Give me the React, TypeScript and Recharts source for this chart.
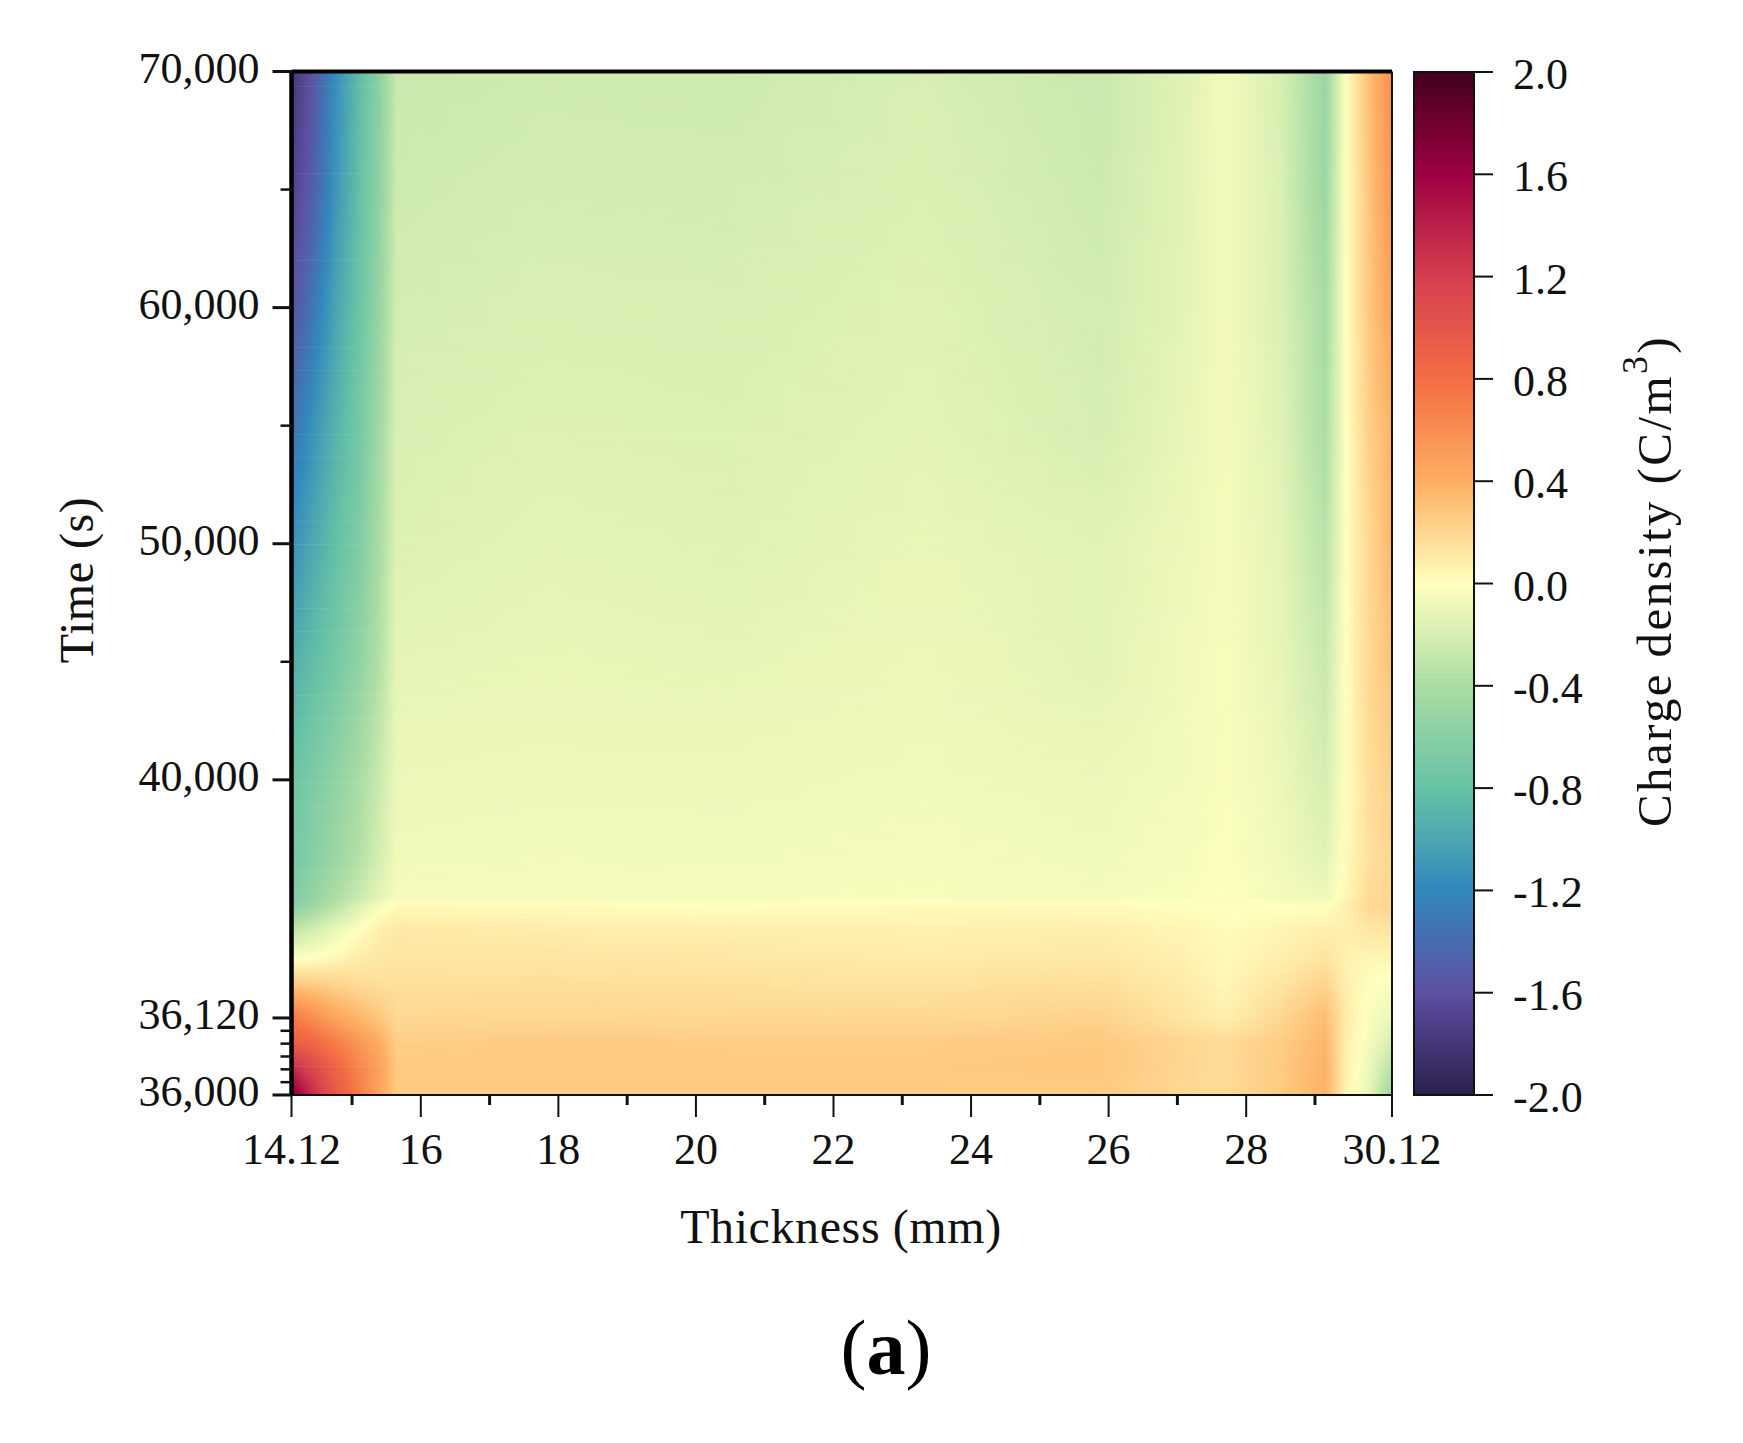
import React from 'react';
import { ComposedChart, XAxis, YAxis, ReferenceArea, ReferenceLine } from 'recharts';

// ---- data ----
const thickness = [14.12, 14.4, 14.75, 15.1, 15.4, 15.65, 17.85, 20.5, 23.3, 25.85, 27.1, 27.7, 28.5, 29.15, 29.45, 29.8, 30.12];
const times = [70000, 65000, 60000, 55000, 50000, 45000, 40000, 38700, 38090, 37950, 37550, 37070, 36660, 36120, 36080, 36040, 36000];

const t70000 = [-1.8, -1.6, -1.17, -0.85, -0.58, -0.26, -0.235, -0.24, -0.195, -0.26, -0.15, -0.06, -0.19, -0.5, 0.0, 0.33, 0.6];
const t65000 = [-1.72, -1.52, -1.12, -0.82, -0.56, -0.235, -0.21, -0.215, -0.175, -0.24, -0.14, -0.06, -0.18, -0.48, 0.0, 0.3, 0.55];
const t60000 = [-1.6, -1.35, -1.02, -0.77, -0.52, -0.21, -0.185, -0.19, -0.155, -0.215, -0.13, -0.06, -0.17, -0.42, 0.0, 0.28, 0.47];
const t55000 = [-1.36, -1.15, -0.92, -0.72, -0.46, -0.185, -0.16, -0.17, -0.135, -0.2, -0.11, -0.055, -0.15, -0.4, 0.0, 0.25, 0.38];
const t50000 = [-1.15, -1.0, -0.82, -0.66, -0.41, -0.165, -0.135, -0.15, -0.11, -0.145, -0.09, -0.05, -0.13, -0.33, 0.0, 0.2, 0.36];
const t45000 = [-0.95, -0.84, -0.72, -0.56, -0.36, -0.125, -0.11, -0.12, -0.09, -0.135, -0.07, -0.04, -0.115, -0.26, 0.0, 0.2, 0.3];
const t40000 = [-0.77, -0.68, -0.56, -0.42, -0.25, -0.09, -0.085, -0.085, -0.07, -0.09, -0.06, -0.03, -0.09, -0.2, 0.0, 0.17, 0.23];
const t38700 = [-0.72, -0.62, -0.5, -0.36, -0.2, -0.07, -0.06, -0.065, -0.05, -0.07, -0.045, -0.02, -0.07, -0.14, 0.02, 0.16, 0.2];
const t38090 = [-0.65, -0.55, -0.4, -0.25, -0.12, -0.05, -0.05, -0.05, -0.035, -0.055, -0.03, -0.01, -0.055, -0.08, 0.04, 0.18, 0.2];
const t37950 = [-0.62, -0.5, -0.33, -0.17, -0.04, 0.03, 0.02, 0.0, 0.02, 0.02, 0.0, 0.0, -0.01, -0.01, 0.07, 0.19, 0.2];
const t37550 = [-0.3, -0.22, -0.1, 0.0, 0.08, 0.11, 0.09, 0.08, 0.07, 0.08, 0.05, 0.02, 0.05, 0.08, 0.08, 0.12, 0.13];
const t37070 = [0.0, 0.01, 0.05, 0.1, 0.12, 0.13, 0.13, 0.12, 0.1, 0.12, 0.07, 0.03, 0.08, 0.14, 0.07, 0.04, 0.05];
const t36660 = [0.28, 0.26, 0.22, 0.18, 0.16, 0.15, 0.16, 0.15, 0.14, 0.16, 0.1, 0.04, 0.13, 0.22, 0.08, 0.0, -0.03];
const t36120 = [0.72, 0.62, 0.46, 0.36, 0.28, 0.19, 0.2, 0.19, 0.19, 0.22, 0.13, 0.08, 0.2, 0.32, 0.1, -0.03, -0.1];
const t36080 = [0.95, 0.88, 0.72, 0.55, 0.42, 0.24, 0.26, 0.25, 0.25, 0.27, 0.2, 0.18, 0.25, 0.36, 0.08, -0.06, -0.2];
const t36040 = [1.35, 1.15, 0.9, 0.65, 0.48, 0.27, 0.27, 0.27, 0.27, 0.28, 0.2, 0.17, 0.26, 0.38, 0.08, -0.1, -0.35];
const t36000 = [1.72, 1.35, 0.98, 0.72, 0.45, 0.25, 0.25, 0.25, 0.25, 0.25, 0.19, 0.18, 0.25, 0.38, 0.05, -0.12, -0.5];
const charge = [t70000, t65000, t60000, t55000, t50000, t45000, t40000, t38700, t38090, t37950, t37550, t37070, t36660, t36120, t36080, t36040, t36000];

const colorLevels = [-2, -1.6, -1.2, -0.8, -0.4, 0, 0.4, 0.8, 1.2, 1.6, 2];
const colorHex = ['#2b1f4d', '#5e4fa2', '#3288bd', '#66c2a5', '#abdda4', '#ffffbf', '#fdae61', '#f46d43', '#d53e4f', '#9e0142', '#42001f'];

const xTicks = [14.12, 15, 16, 17, 18, 19, 20, 21, 22, 23, 24, 25, 26, 27, 28, 29, 30.12];
const xMinor = [15, 17, 19, 21, 23, 25, 27, 29];
const yTickTimes = [36000, 36020, 36040, 36060, 36080, 36100, 36120, 40000, 45000, 50000, 55000, 60000, 65000, 70000];
const yLabelled = [36000, 36120, 40000, 50000, 60000, 70000];
const barTicks = [-2, -1.6, -1.2, -0.8, -0.4, 0, 0.4, 0.8, 1.2, 1.6, 2];

// ---- helpers ----
const FONT = '"Liberation Serif", serif';
const INK = '#111';
const POS_MAX = 1023;
const STRIPS = 400;
const SUB = 4;

// The printed time axis is piecewise: expanded start, then a linear stretch.
const axisPos = (t: number) => {
  if (t <= 36120) return ((t - 36000) / 120) * 77;
  if (t <= 40000) return 77 + ((t - 36120) / 3880) * 238;
  return 315 + ((t - 40000) / 30000) * 708;
};
const timeByPos = new Map(yTickTimes.map((t) => [axisPos(t), t]));
const hexRgb = (h: string) => [1, 3, 5].map((i) => parseInt(h.slice(i, i + 2), 16));
const colorOf = (v: number) => {
  const c = Math.max(-2, Math.min(2, v));
  let i = 0;
  while (i < colorLevels.length - 2 && c > colorLevels[i + 1]) i++;
  const f = (c - colorLevels[i]) / (colorLevels[i + 1] - colorLevels[i]);
  const a = hexRgb(colorHex[i]);
  const b = hexRgb(colorHex[i + 1]);
  return `rgb(${a.map((x, k) => Math.round(x + (b[k] - x) * f)).join(',')})`;
};

const rowPos = times.map(axisPos);
const rowAt = (p: number) => {
  let i = 0;
  while (i < rowPos.length - 2 && p < rowPos[i + 1]) i++;
  const f = (rowPos[i] - p) / (rowPos[i] - rowPos[i + 1]);
  return thickness.map((_, c) => charge[i][c] + (charge[i + 1][c] - charge[i][c]) * f);
};

const xMin = thickness[0];
const xMax = thickness[thickness.length - 1];
const strips = Array.from({ length: STRIPS }, (_, i) => {
  const p0 = (i * POS_MAX) / STRIPS;
  const p1 = ((i + 1) * POS_MAX) / STRIPS;
  const row = rowAt((p0 + p1) / 2);
  const stops: { o: number; c: string }[] = [];
  for (let c = 0; c < thickness.length - 1; c++) {
    for (let s = 0; s < SUB; s++) {
      const f = s / SUB;
      const x = thickness[c] + (thickness[c + 1] - thickness[c]) * f;
      stops.push({ o: (x - xMin) / (xMax - xMin), c: colorOf(row[c] + (row[c + 1] - row[c]) * f) });
    }
  }
  stops.push({ o: 1, c: colorOf(row[row.length - 1]) });
  return { id: `strip-${i}`, p0, p1: Math.min(POS_MAX, p1 + 0.7), stops };
});

const XTick = (props: any) => {
  const { x, y, payload } = props;
  const v = payload.value;
  const minor = xMinor.includes(v);
  return (
    <g>
      <line x1={x} x2={x} y1={y} y2={y + (minor ? 10 : 22)} stroke={INK} strokeWidth={minor ? 3 : 2} />
      {!minor && (
        <text x={x} y={y + 69} textAnchor="middle" fontFamily={FONT} fontSize={44} fill={INK}>
          {String(v)}
        </text>
      )}
    </g>
  );
};

const YTick = (props: any) => {
  const { x, y, payload } = props;
  const t = timeByPos.get(payload.value) ?? 0;
  const major = yLabelled.includes(t);
  return (
    <g>
      <line x1={x - (major ? 19 : 11)} x2={x} y1={y} y2={y} stroke={INK} strokeWidth={major ? 3 : 2.5} />
      {major && (
        <text x={x - 32} y={y + 11} textAnchor="end" fontFamily={FONT} fontSize={44} fill={INK}>
          {t.toLocaleString('en-US')}
        </text>
      )}
    </g>
  );
};

const BarTick = (props: any) => {
  const { x, y, payload } = props;
  return (
    <g>
      <line x1={x} x2={x + 19} y1={y} y2={y} stroke={INK} strokeWidth={2} />
      <text x={x + 39} y={y + 17} textAnchor="start" fontFamily={FONT} fontSize={44} fill={INK}>
        {payload.value.toFixed(1)}
      </text>
    </g>
  );
};

export default function App() {
  const abs: React.CSSProperties = { position: 'absolute', left: 0, top: 0 };
  return (
    <div style={{ ...abs, width: 1743, height: 1443, background: '#fff' }}>
      <div style={abs}>
        <ComposedChart width={1500} height={1300} data={[]} margin={{ top: 71.5, right: 108, bottom: 85, left: 0 }}>
          <defs>
            {strips.map((s) => (
              <linearGradient key={s.id} id={s.id} x1="0" y1="0" x2="1" y2="0">
                {s.stops.map((st, k) => (
                  <stop key={k} offset={st.o} stopColor={st.c} />
                ))}
              </linearGradient>
            ))}
          </defs>
          <XAxis
            type="number"
            dataKey="x"
            domain={[xMin, xMax]}
            ticks={xTicks}
            interval={0}
            height={120}
            allowDataOverflow
            tick={<XTick />}
            tickSize={0}
            tickMargin={0}
            axisLine={{ stroke: INK, strokeWidth: 2 }}
            tickLine={false}
          />
          <YAxis
            type="number"
            dataKey="y"
            domain={[0, POS_MAX]}
            ticks={yTickTimes.map(axisPos)}
            interval={0}
            width={291.5}
            allowDataOverflow
            tick={<YTick />}
            tickSize={0}
            tickMargin={0}
            axisLine={{ stroke: '#000', strokeWidth: 4 }}
            tickLine={false}
          />
          {strips.map((s) => (
            <ReferenceArea key={s.id} x1={xMin} x2={xMax} y1={s.p0} y2={s.p1} fill={`url(#${s.id})`} fillOpacity={1} stroke="none" />
          ))}
          <ReferenceLine y={POS_MAX} stroke="#000" strokeWidth={4} />
          <ReferenceLine x={xMax} stroke={INK} strokeWidth={2} />
          <ReferenceLine x={xMin} stroke="#000" strokeWidth={4} />
          <ReferenceLine y={0} stroke={INK} strokeWidth={2} />
        </ComposedChart>
      </div>
      <div style={{ ...abs, left: 1400 }}>
        <ComposedChart width={343} height={1300} data={[]} margin={{ top: 72, right: 0, bottom: 205, left: 14 }}>
          <defs>
            <linearGradient id="colorbar" x1="0" y1="1" x2="0" y2="0">
              {colorLevels.map((v, i) => (
                <stop key={v} offset={(v + 2) / 4} stopColor={colorHex[i]} />
              ))}
            </linearGradient>
          </defs>
          <XAxis type="number" dataKey="x" domain={[0, 1]} hide height={0} allowDataOverflow />
          <YAxis
            orientation="right"
            type="number"
            dataKey="y"
            domain={[-2, 2]}
            ticks={barTicks}
            interval={0}
            width={269}
            allowDataOverflow
            tick={<BarTick />}
            tickSize={0}
            tickMargin={0}
            axisLine={false}
            tickLine={false}
          />
          <ReferenceArea x1={0} x2={1} y1={-2} y2={2} fill="url(#colorbar)" fillOpacity={1} stroke={INK} strokeWidth={2} />
        </ComposedChart>
      </div>
      <svg width={1743} height={1443} style={{ ...abs, pointerEvents: 'none' }}>
        <g fontFamily={FONT} fill={INK}>
          <text x={841} y={1243} fontSize={48} letterSpacing={0.6} textAnchor="middle">Thickness (mm)</text>
          <text transform="translate(93,580) rotate(-90)" fontSize={48} letterSpacing={0.5} textAnchor="middle">Time (s)</text>
          <text transform="translate(1671,581) rotate(-90)" fontSize={49} letterSpacing={2.4} textAnchor="middle">
            Charge density (C/m<tspan fontSize={36} dy={-24}>3</tspan><tspan dy={24}>)</tspan>
          </text>
          <text x={886} y={1374} fontSize={78} textAnchor="middle" fill="#000">
            (<tspan fontWeight="bold">a</tspan>)
          </text>
        </g>
      </svg>
    </div>
  );
}
